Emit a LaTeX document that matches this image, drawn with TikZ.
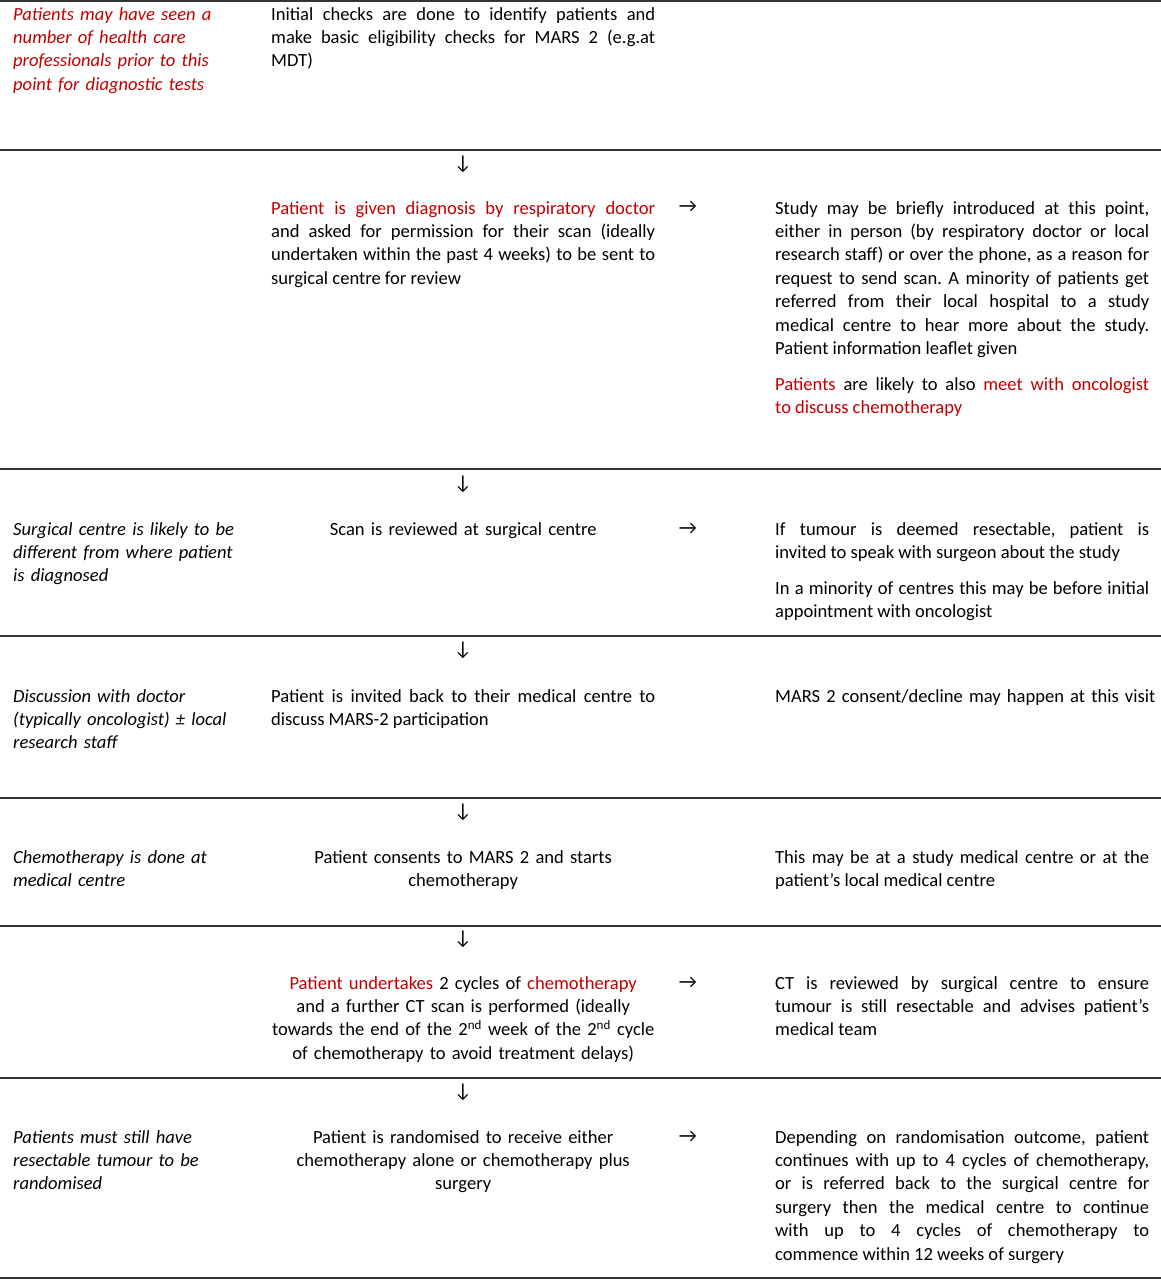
\documentclass[tikz,border=0pt]{standalone}
\usepackage{fontspec}
\setmainfont{Carlito}
\usepackage{xcolor}
\usetikzlibrary{positioning}
\definecolor{marsred}{RGB}{192,0,0}
\setlength{\parindent}{0pt}
\frenchspacing
\hyphenpenalty=10000
\exhyphenpenalty=10000
\tolerance=9999
\newcommand{\rd}[1]{\textcolor{marsred}{#1}}
\newcommand{\tabfont}{\fontsize{18.55}{23.4}\selectfont}
\newcommand{\paragap}{\par\vspace{12.6pt}}

\begin{document}
\begin{tikzpicture}[x=1pt, y=-1pt,
  cell/.style={anchor=north west, inner sep=0pt, font=\tabfont, execute at begin node=\strut},
  note/.style={cell, text width=232pt, align=left, font=\tabfont\itshape},
  mid/.style={cell, text width=384pt, align=justify},
  midc/.style={cell, text width=384pt, align=center},
  side/.style={cell, text width=374pt, align=justify},
  glyph/.style={inner sep=0pt, font=\fontsize{20}{24}\selectfont},
  rule/.style={line width=1.5pt, black!80}
]
\useasboundingbox (0,0) rectangle (1161,1280);

% table rules
\foreach \ry in {1,150,469,636,798,926,1078,1278}
  \draw[rule] (0,\ry) -- (1161,\ry);

% row 1
\node[note, text=marsred] (seen)   at (13,3.6)   {Patients may have seen a\\ number of health care\\ professionals prior to this\\ point for diagnostic tests};
\node[mid]                (checks) at (271,3.6)  {Initial checks are done to identify patients and\linebreak make basic eligibility checks for MARS 2 (e.g.at\linebreak MDT)};

% row 2
\node[glyph] (down1) at (463,164) {↓};
\node[mid]   (diag)  at (271,197.6) {\rd{Patient is given diagnosis by respiratory doctor}\linebreak and asked for permission for their scan (ideally\linebreak undertaken within the past 4 weeks) to be sent to\linebreak surgical centre for review};
\node[glyph] (right1) at (688,207) {→};
\node[side]  (intro) at (775,197.6) {Study may be briefly introduced at this point,\linebreak either in person (by respiratory doctor or local\linebreak research staff) or over the phone, as a reason for\linebreak request to send scan. A minority of patients get\linebreak referred from their local hospital to a study\linebreak medical centre to hear more about the study.\linebreak Patient information leaflet given\paragap
\rd{Patients} are likely to also \rd{meet with oncologist}\linebreak \rd{to discuss chemotherapy}};

% row 3
\node[glyph] (down2) at (463,484) {↓};
\node[note]  (surgc) at (13,518.6) {Surgical centre is likely to be\\ different from where patient\\ is diagnosed};
\node[midc]  (scan)  at (271,518.6) {Scan is reviewed at surgical centre};
\node[glyph] (right2) at (688,529) {→};
\node[side]  (resect) at (775,518.6) {If tumour is deemed resectable, patient is\linebreak invited to speak with surgeon about the study\paragap
In a minority of centres this may be before initial\linebreak appointment with oncologist};

% row 4
\node[glyph] (down3) at (463,650) {↓};
\node[note]  (discuss) at (13,685.6) {Discussion with doctor\\ (typically oncologist) ± local\\ research staff};
\node[mid]   (invite)  at (271,685.6) {Patient is invited back to their medical centre to\linebreak discuss MARS-2 participation};
\node[cell, text width=384pt, align=left] (consent) at (775,685.6) {MARS 2 consent/decline may happen at this visit};

% row 5
\node[glyph] (down4) at (463,812) {↓};
\node[note]  (chemoc) at (13,846.6) {Chemotherapy is done at\\ medical centre};
\node[midc]  (starts) at (271,846.6) {Patient consents to MARS 2 and starts\\ chemotherapy};
\node[side]  (local)  at (775,846.6) {This may be at a study medical centre or at the\linebreak patient’s local medical centre};

% row 6
\node[glyph] (down5) at (463,939) {↓};
\node[midc]  (cycles) at (271,972.6) {\rd{Patient undertakes} 2 cycles of \rd{chemotherapy}\\ and a further CT scan is performed (ideally\\ towards the end of the 2\textsuperscript{nd} week of the 2\textsuperscript{nd} cycle\\ of chemotherapy to avoid treatment delays)};
\node[glyph] (right3) at (688,983) {→};
\node[side]  (ctrev)  at (775,972.6) {CT is reviewed by surgical centre to ensure\linebreak tumour is still resectable and advises patient’s\linebreak medical team};

% row 7
\node[glyph] (down6) at (463,1092) {↓};
\node[note]  (still)  at (13,1126.6) {Patients must still have\\ resectable tumour to be\\ randomised};
\node[midc]  (random) at (271,1126.6) {Patient is randomised to receive either\\ chemotherapy alone or chemotherapy plus\\ surgery};
\node[glyph] (right4) at (688,1137) {→};
\node[side]  (outcome) at (775,1126.6) {Depending on randomisation outcome, patient\linebreak continues with up to 4 cycles of chemotherapy,\linebreak or is referred back to the surgical centre for\linebreak surgery then the medical centre to continue\linebreak with up to 4 cycles of chemotherapy to\linebreak commence within 12 weeks of surgery};
\end{tikzpicture}
\end{document}
